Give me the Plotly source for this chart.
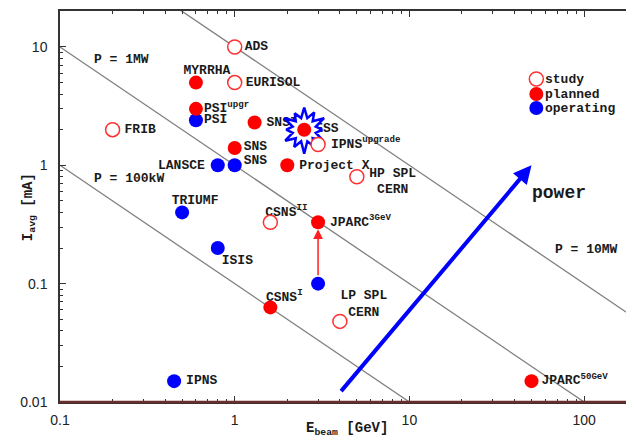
import math
import plotly.graph_objects as go

# ---------------- data ----------------
names = ["ADS", "MYRRHA", "EURISOL", "PSI<sup>upgr</sup>", "PSI", "FRIB", "SNS", "SNS",
         "LANSCE", "SNSII", "ESS", "IPNS<sup>upgrade</sup>", "Project X", "HP SPL<br>CERN",
         "CSNS<sup>II</sup>", "JPARC<sup>3GeV</sup>", "JPARC", "TRIUMF", "ISIS",
         "CSNS<sup>I</sup>", "LP SPL<br>CERN", "IPNS", "JPARC<sup>50GeV</sup>"]
e_beam = [1.0, 0.6, 1.0, 0.6, 0.6, 0.2, 1.0, 1.0,
          0.8, 1.3, 2.5, 3.0, 2.0, 5.0,
          1.6, 3.0, 3.0, 0.5, 0.8,
          1.6, 4.0, 0.45, 50.0]
i_avg = [10.0, 5.0, 5.0, 3.0, 2.4, 2.0, 1.4, 1.0,
         1.0, 2.3, 2.0, 1.5, 1.0, 0.8,
         0.33, 0.33, 0.1, 0.4, 0.2,
         0.063, 0.048, 0.015, 0.015]
status = ["study", "planned", "study", "planned", "operating", "study", "planned", "operating",
          "operating", "planned", "planned", "study", "planned", "study",
          "study", "planned", "operating", "operating", "operating",
          "planned", "study", "operating", "planned"]
show_label = [True] * 16 + [False] + [True] * 6

power_mw = [0.1, 1.0, 10.0]
power_labels = ["P = 100kW", "P = 1MW", "P = 10MW"]

x_ticks = [0.1, 1, 10, 100]
x_ticktext = ["0.1", "1", "10", "100"]
y_ticks = [0.01, 0.1, 1, 10]
y_ticktext = ["0.01", "0.1", "1", "10"]

power_arrow_e = [4.0, 50.0]
power_arrow_i = [0.012, 1.0]
upgrade_arrow_e = [3.0, 3.0]
upgrade_arrow_i = [0.1, 0.33]

# ---------------- layout geometry ----------------
OFF = 8  # page body margin
W, H = 626, 440
ML, MR, MT, MB = 52, 0, 3, 46
XR = [-1.0, math.log10(188)]
YR = [-2.0, 1.304]
PW, PH = W - ML - MR, H - MT - MB
PXX = PW / (XR[1] - XR[0])
PXY = PH / (YR[1] - YR[0])

MONO = "Liberation Mono"
RED = "#ff0000"
BLUE = "#0000ff"
TXT = "#1a1a1a"
WT = "bold"


def paper(px, py):
    """page pixel -> paper coordinates"""
    return (px - OFF - ML) / PW, (H - MB - (py - OFF)) / PH


# label offsets in pixels (dx, dy) and anchor
label_style = {
    0: (10, 0, "l"), 1: (11, -12, "c"), 2: (11, 0, "l"), 3: (8, 0, "l"), 4: (8, -1, "l"),
    5: (12, 0, "l"), 6: (9, -1, "l"), 7: (9, -5, "l"), 8: (-13, 0, "r"), 9: (12, 0, "l"),
    10: (11, -1, "l"), 11: (13, 0, "l"), 12: (12, 0, "l"), 13: (36, 5, "c"),
    14: (16, -10, "c"), 15: (12, 0, "l"), 17: (13, -12, "c"), 18: (4, 13, "l"),
    19: (14, -10, "c"), 20: (24, -17, "c"), 21: (12, 0, "l"), 22: (10, 0, "l"),
}
pos_map = {"l": "middle right", "c": "middle center", "r": "middle left"}


def shift(e, i, dx, dy):
    return 10 ** (math.log10(e) + dx / PXX), 10 ** (math.log10(i) - dy / PXY)


fig = go.Figure()

# constant power lines
e_line = [10 ** XR[0], 10 ** XR[1]]
for p in power_mw:
    fig.add_trace(go.Scatter(x=e_line, y=[p / e for e in e_line], mode="lines",
                             line=dict(color="#808080", width=1.3),
                             hoverinfo="skip", showlegend=False))

# labels as text traces (so the starburst can cover them)
for anchor in ["l", "c", "r"]:
    xs, ys, ts = [], [], []
    for k, nm in enumerate(names):
        if not show_label[k]:
            continue
        dx, dy, a = label_style[k]
        if a != anchor:
            continue
        x, y = shift(e_beam[k], i_avg[k], dx, dy)
        xs.append(x)
        ys.append(y)
        ts.append(nm)
    fig.add_trace(go.Scatter(x=xs, y=ys, text=ts, mode="text", textposition=pos_map[anchor],
                             textfont=dict(family=MONO, size=13, color=TXT, weight=WT),
                             hoverinfo="skip", showlegend=False))

# starburst around ESS
k_ess = names.index("ESS")
radii = [22, 19, 23, 18, 22, 20, 24, 19, 22, 18, 23, 20]
n = len(radii)
sx, sy = [], []
for j in range(2 * n + 1):
    jj = j % (2 * n)
    ang = math.pi / 2 + jj * math.pi / n
    r = radii[jj // 2] if jj % 2 == 0 else 12
    x, y = shift(e_beam[k_ess], i_avg[k_ess], r * math.cos(ang), -r * math.sin(ang))
    sx.append(x)
    sy.append(y)
fig.add_trace(go.Scatter(x=sx, y=sy, mode="lines", fill="toself", fillcolor="white",
                         line=dict(color=BLUE, width=2.5), hoverinfo="skip", showlegend=False))

# markers
marker_style = {
    "study": dict(color="white", size=14, line=dict(color="#ff3030", width=1.5)),
    "planned": dict(color=RED, size=14, line=dict(width=0)),
    "operating": dict(color=BLUE, size=14, line=dict(width=0)),
}
for st in ["study", "operating", "planned"]:
    xs = [e for e, s in zip(e_beam, status) if s == st]
    ys = [i for i, s in zip(i_avg, status) if s == st]
    fig.add_trace(go.Scatter(x=xs, y=ys, mode="markers", marker=marker_style[st],
                             name=st, showlegend=False))

annotations = []
# upgrade arrow (JPARC)
annotations.append(dict(x=math.log10(upgrade_arrow_e[1]), y=math.log10(upgrade_arrow_i[1]),
                        ax=math.log10(upgrade_arrow_e[0]), ay=math.log10(upgrade_arrow_i[0]),
                        xref="x", yref="y", axref="x", ayref="y", showarrow=True,
                        arrowhead=2, arrowsize=1.3, arrowwidth=1.5, arrowcolor="#ff2020",
                        standoff=7, startstandoff=7, text=""))
# power arrow
annotations.append(dict(x=math.log10(power_arrow_e[1]), y=math.log10(power_arrow_i[1]),
                        ax=math.log10(power_arrow_e[0]), ay=math.log10(power_arrow_i[0]),
                        xref="x", yref="y", axref="x", ayref="y", showarrow=True,
                        arrowhead=2, arrowsize=0.9, arrowwidth=4, arrowcolor=BLUE, text=""))
annotations.append(dict(x=math.log10(72), y=math.log10(0.585), xref="x", yref="y",
                        text="power", showarrow=False, xanchor="center",
                        font=dict(family=MONO, size=18, color=TXT, weight=WT)))
# power line labels
pl_pos = [(0.152, 0.78), (0.152, 7.8), (66, 0.196)]
for lbl, (px, py) in zip(power_labels, pl_pos):
    annotations.append(dict(x=math.log10(px), y=math.log10(py), xref="x", yref="y",
                            text=lbl, showarrow=False, xanchor="left",
                            font=dict(family=MONO, size=13, color=TXT, weight=WT)))

# legend (manual)
shapes = []
leg_items = ["study", "planned", "operating"]
leg_y_px = [79, 94, 108]
leg_x_px = 538
for st, ypx in zip(leg_items, leg_y_px):
    xp, yp = paper(leg_x_px, ypx)
    ms = marker_style[st]
    shapes.append(dict(type="circle", xref="paper", yref="paper", xsizemode="pixel",
                       ysizemode="pixel", xanchor=xp, yanchor=yp, x0=-7, x1=7, y0=-7, y1=7,
                       fillcolor=ms["color"],
                       line=dict(color=ms["line"].get("color", ms["color"]),
                                 width=ms["line"].get("width", 0))))
    annotations.append(dict(x=xp, y=yp, xref="paper", yref="paper", text=st,
                            showarrow=False, xanchor="left", yanchor="middle", xshift=7,
                            font=dict(family=MONO, size=13, color=TXT, weight=WT)))

# bottom axis line in brown
shapes.append(dict(type="line", xref="paper", yref="paper", x0=0, x1=1, y0=0, y1=0,
                   line=dict(color="#6b2c2c", width=2.5)))

# axis titles
tx, ty = paper(348, 440)
annotations.append(dict(x=tx, y=ty, xref="paper", yref="paper",
                        text="E<sub>beam</sub> [GeV]", showarrow=False,
                        font=dict(family=MONO, size=14, color=TXT, weight=WT)))
tx, ty = paper(18, 207)
annotations.append(dict(x=tx, y=ty, xref="paper", yref="paper",
                        text="I<sub>avg</sub> [mA]", showarrow=False, textangle=-90,
                        font=dict(family=MONO, size=14, color=TXT, weight=WT)))

minor_x = [m * 10 ** d for d in range(-1, 3) for m in range(2, 10)]
minor_y = [m * 10 ** d for d in range(-2, 2) for m in range(2, 10)]

fig.update_layout(
    width=W, height=H, margin=dict(l=ML, r=MR, t=MT, b=MB),
    paper_bgcolor="white", plot_bgcolor="white",
    showlegend=False, annotations=annotations, shapes=shapes,
    xaxis=dict(type="log", range=XR, showgrid=False, zeroline=False, showline=True,
               linecolor="#333333", linewidth=1.5, mirror="ticks", ticks="inside",
               ticklen=6, tickcolor="#333333", tickvals=x_ticks, ticktext=x_ticktext,
               tickfont=dict(family="Liberation Sans", size=14, color="#222222"),
               ticklabelstandoff=4,
               minor=dict(ticks="inside", ticklen=3, tickcolor="#333333", tickvals=minor_x,
                          showgrid=False)),
    yaxis=dict(type="log", range=YR, showgrid=False, zeroline=False, showline=True,
               linecolor="#333333", linewidth=1.5, mirror="ticks", ticks="inside",
               ticklen=6, tickcolor="#333333", tickvals=y_ticks, ticktext=y_ticktext,
               tickfont=dict(family="Liberation Sans", size=14, color="#222222"),
               ticklabelstandoff=8,
               minor=dict(ticks="inside", ticklen=3, tickcolor="#333333", tickvals=minor_y,
                          showgrid=False)),
)

fig.write_html("out.html")
